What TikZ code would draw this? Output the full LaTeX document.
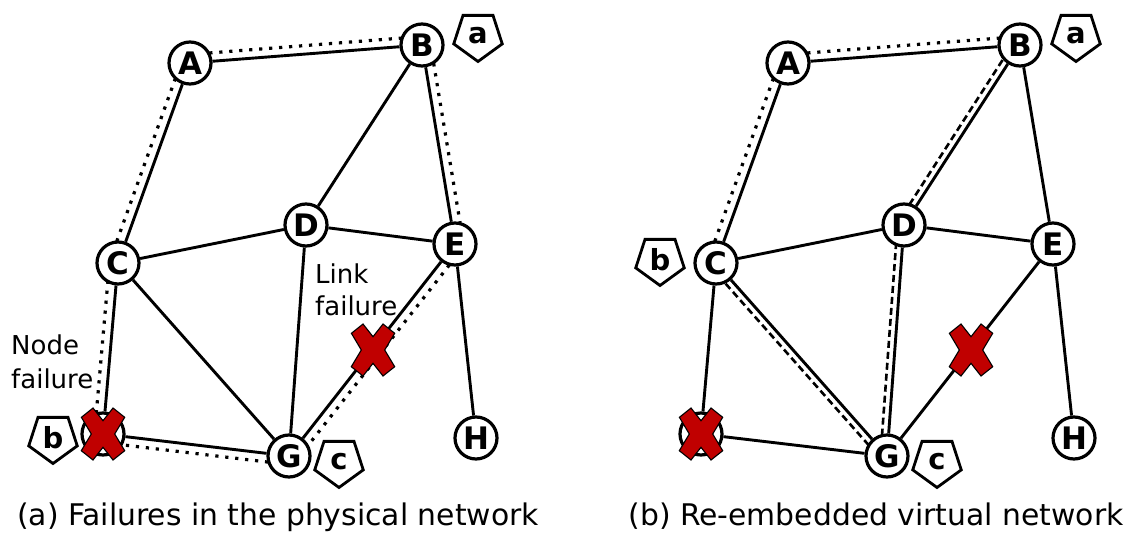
\documentclass[tikz,border=0pt]{standalone}
\usepackage{fontspec}
\setmainfont{DejaVu Sans}
\usetikzlibrary{calc,shapes.geometric}
\pgfdeclarelayer{bg}
\pgfsetlayers{bg,main}

\tikzset{
  vnode/.style={circle, draw, fill=white, line width=3.2pt, minimum size=42pt,
    inner sep=0pt, font=\bfseries\fontsize{31}{31}\selectfont},
  vpent/.style={regular polygon, regular polygon sides=5, shape border rotate=180,
    draw, fill=white, line width=2.8pt, minimum size=51pt, inner sep=0pt,
    font=\bfseries\fontsize{29}{29}\selectfont},
  plink/.style={line width=2.9pt},
  dotlink/.style={line width=3.2pt, dash pattern=on 3.2pt off 6.8pt,
    shorten <=20pt, shorten >=20pt},
  dashlink/.style={line width=2.6pt, dash pattern=on 7pt off 4pt,
    shorten <=20pt, shorten >=20pt},
  xmark/.style={fill={rgb,255:red,192;green,0;blue,0}, draw=black, line width=1.1pt},
  lbl/.style={font=\fontsize{26}{26}\selectfont, anchor=base west, inner sep=0pt},
  captext/.style={font=\fontsize{29.8}{29.8}\selectfont, anchor=base, inner sep=0pt},
}

% a path running beside the link #2--#3, #4 to its left (seen from #2)
\newcommand\sidepath[4]{%
  \draw[#1] ($(#2.center)!#4!90:(#3.center)$) -- ($(#3.center)!#4!-90:(#2.center)$);}
% red cross centred on a named point
\newcommand\failcross[1]{%
  \draw[xmark, shift={(#1)}] (-21.6,-16.7) -- (-10,-26) -- (0,-13.3) -- (10,-26)
    -- (21.7,-16.7) -- (11.7,0) -- (21.7,16.7) -- (10,26) -- (0,13.3) -- (-10,26)
    -- (-21.7,16.7) -- (-11.7,0) -- cycle;}

\begin{document}
\begin{tikzpicture}[x=1pt, y=-1pt]
\useasboundingbox (0,0) rectangle (1128,533);

% ---------- (a) physical network with failures ----------
\node[vnode] (A) at (190,63) {A};
\node[vnode] (B) at (422,45) {B};
\node[vnode] (C) at (118,263) {C};
\node[vnode] (D) at (306,225) {D};
\node[vnode] (E) at (455,244) {E};
\node[vnode] (F) at (103,434) {};
\node[vnode] (G) at (289,456) {G};
\node[vnode] (H) at (476,438) {H};

\node[vpent] (pa) at (478,36) {a};
\node[vpent] (pb) at (53,438) {b};
\node[vpent] (pc) at (339,462) {c};

\begin{pgfonlayer}{bg}
  \foreach \u/\v in {A/B, A/C, B/D, B/E, C/D, D/E, C/F, C/G, D/G, E/G, E/H, F/G}
    \draw[plink] (\u) -- (\v);
  \sidepath{dotlink}{A}{B}{8.5pt}
  \sidepath{dotlink}{C}{A}{8.5pt}
  \sidepath{dotlink}{B}{E}{8.5pt}
  \sidepath{dotlink}{F}{C}{8.5pt}
  \sidepath{dotlink}{G}{F}{8.5pt}
  \sidepath{dotlink}{E}{G}{8.5pt}
\end{pgfonlayer}

\coordinate (XL) at (373,350);
\failcross{F}
\failcross{XL}

\node[lbl] (nf1) at (11,354) {Node};
\node[lbl] (nf2) at (11,388) {failure};
\node[lbl] (lf1) at (315,283) {Link};
\node[lbl] (lf2) at (315,315) {failure};

\node[captext] (capa) at (278,525) {(a) Failures in the physical network};

% ---------- (b) re-embedded virtual network ----------
\begin{scope}[xshift=598pt]
\node[vnode] (A2) at (190,63) {A};
\node[vnode] (B2) at (422,45) {B};
\node[vnode] (C2) at (118,263) {C};
\node[vnode] (D2) at (306,225) {D};
\node[vnode] (E2) at (455,244) {E};
\node[vnode] (F2) at (103,434) {};
\node[vnode] (G2) at (289,456) {G};
\node[vnode] (H2) at (476,438) {H};

\node[vpent] (qa) at (478,36) {a};
\node[vpent] (qb) at (62,260) {b};
\node[vpent] (qc) at (339,462) {c};

\begin{pgfonlayer}{bg}
  \foreach \u/\v in {A2/B2, A2/C2, B2/D2, B2/E2, C2/D2, D2/E2, C2/F2, C2/G2,
                     D2/G2, E2/G2, E2/H2, F2/G2}
    \draw[plink] (\u) -- (\v);
  \sidepath{dotlink}{A2}{B2}{8.5pt}
  \sidepath{dotlink}{C2}{A2}{8.5pt}
  \sidepath{dashlink}{D2}{B2}{6.5pt}
  \sidepath{dashlink}{G2}{D2}{6.5pt}
  \sidepath{dashlink}{G2}{C2}{6.5pt}
\end{pgfonlayer}

\coordinate (XL2) at (373,350);
\failcross{F2}
\failcross{XL2}

\node[captext] (capb) at (278,525) {(b) Re-embedded virtual network};
\end{scope}
\end{tikzpicture}
\end{document}
